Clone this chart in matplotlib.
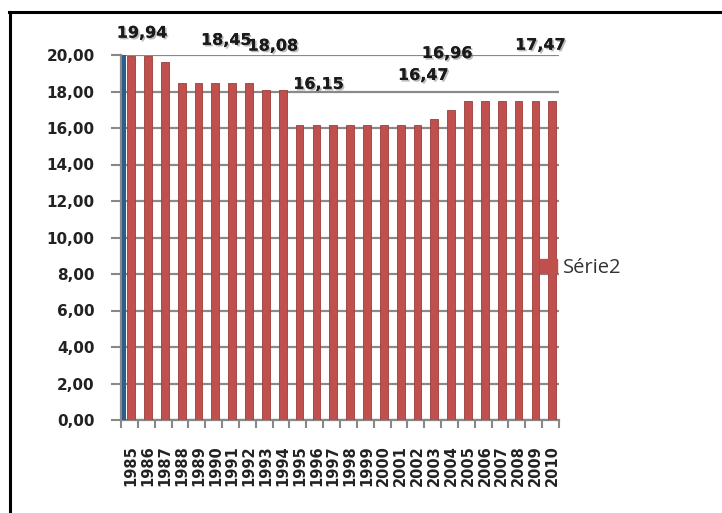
import matplotlib
matplotlib.use("Agg")
import matplotlib.pyplot as plt
import matplotlib.patheffects as pe
from matplotlib.lines import Line2D
from matplotlib.patches import Patch
import numpy as np

years = [str(y) for y in range(1985, 2011)]
serie2 = [19.94, 19.94, 19.60, 18.45, 18.45, 18.45, 18.45, 18.45, 18.08, 18.08,
          16.15, 16.15, 16.15, 16.15, 16.15, 16.15, 16.15, 16.15, 16.47, 16.96,
          17.47, 17.47, 17.47, 17.47, 17.47, 17.47]
serie1 = [20.0]
label_idx = [0, 5, 8, 10, 18, 19, 24]
label_txt = ["19,94", "18,45", "18,08", "16,15", "16,47", "16,96", "17,47"]
label_off = [(11, 23), (11, 43), (7, 44), (19, 41), (-11, 44), (-4, 57), (5, 56)]
yticks = [0, 2, 4, 6, 8, 10, 12, 14, 16, 18, 20]
ytick_labels = ["0,00", "2,00", "4,00", "6,00", "8,00", "10,00", "12,00",
                "14,00", "16,00", "18,00", "20,00"]

W, H = 722, 513
fig = plt.figure(figsize=(W / 100, H / 100), dpi=100)
ax = fig.add_axes([121 / W, 1 - 420 / H, 438 / W, 365 / H])

x = np.arange(len(years))
ax.bar(x, serie2, width=0.46, color="#C0504D", edgecolor="#9B3D3A",
       linewidth=0.6, zorder=3)
ax.bar(x[:1] - 0.42, serie1, width=0.22, color="#2F5C8F", zorder=3)

ax.set_xlim(-0.6, 25.4)
ax.set_ylim(0, 20)
ax.set_yticks(yticks)
ax.set_yticklabels(ytick_labels, fontsize=11, fontweight="bold", color="#222222")
ax.set_xticks(x)
ax.set_xticklabels(years, rotation=90, fontsize=10.5, fontweight="bold",
                   color="#222222", va="top")
ax.set_xticks(np.arange(len(years) + 1) - 0.6, minor=True)
ax.tick_params(axis="x", which="major", length=0, pad=18)
ax.tick_params(axis="x", which="minor", length=6, width=1.5, color="#888888")
ax.tick_params(axis="y", length=7, width=1.5, color="#888888", pad=12)

ax.grid(axis="y", color="#8a8a8a", linewidth=1.6, zorder=0)
for s in ["top", "right"]:
    ax.spines[s].set_visible(False)
for s in ["left", "bottom"]:
    ax.spines[s].set_color("#888888")
    ax.spines[s].set_linewidth(1.6)

shadow = [pe.withSimplePatchShadow(offset=(1.2, -1.2), shadow_rgbFace="#777777", alpha=0.5), pe.Normal()]
for i, t, (dx, dy) in zip(label_idx, label_txt, label_off):
    ax.annotate(t, xy=(x[i], serie2[i]), xytext=(dx, dy), textcoords="offset pixels",
                ha="center", va="center", fontsize=11.5, fontweight="bold",
                color="#1a1a1a", path_effects=shadow, annotation_clip=False, zorder=5)

handle = Patch(facecolor="#C0504D", edgecolor="#C0504D")
fig.legend([handle], ["Série2"], loc="center left",
           bbox_to_anchor=(540 / W, 1 - 268 / H), frameon=False,
           borderaxespad=0, borderpad=0,
           handlelength=0.85, handleheight=0.75, handletextpad=0.3,
           prop={"family": "Open Sans", "size": 14.5}, labelcolor="#333333")

# outer frame (top and left edges)
fig.add_artist(Line2D([9 / W, 1], [1 - 12 / H, 1 - 12 / H], transform=fig.transFigure,
                      color="black", linewidth=2.2))
fig.add_artist(Line2D([10 / W, 10 / W], [1 - 12 / H, 0], transform=fig.transFigure,
                      color="black", linewidth=2.2))

fig.savefig("out.png", dpi=100)
